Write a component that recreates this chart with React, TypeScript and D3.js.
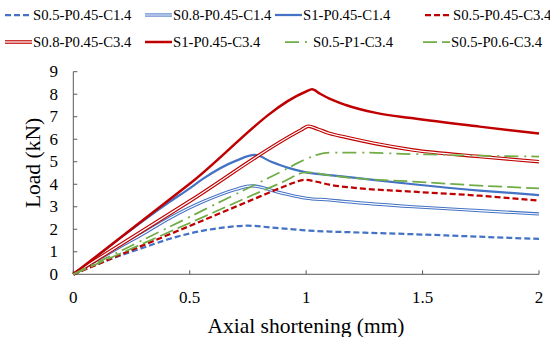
import React from "react";
import * as d3 from "d3";

const xTicks = [0, 0.5, 1, 1.5, 2];
const xTickLabels = ["0", "0.5", "1", "1.5", "2"];
const yTicks = [0, 1, 2, 3, 4, 5, 6, 7, 8, 9];

const seriesNames = [
  "S0.5-P0.45-C1.4",
  "S0.8-P0.45-C1.4",
  "S1-P0.45-C1.4",
  "S0.5-P0.45-C3.4",
  "S0.8-P0.45-C3.4",
  "S1-P0.45-C3.4",
  "S0.5-P1-C3.4",
  "S0.5-P0.6-C3.4",
];

const s05P045C14: [number, number][] = [
  [0, 0], [0.1, 0.43], [0.2, 0.83], [0.3, 1.18], [0.415, 1.58], [0.558, 1.94],
  [0.65, 2.08], [0.75, 2.16], [0.85, 2.08], [1.0, 1.95], [1.1, 1.9], [1.25, 1.85],
  [1.46, 1.78], [1.745, 1.67], [2.0, 1.57],
];
const s08P045C14: [number, number][] = [
  [0, 0], [0.1, 0.62], [0.2, 1.22], [0.3, 1.8], [0.415, 2.5], [0.558, 3.23],
  [0.7, 3.78], [0.765, 3.93], [0.887, 3.63], [1.0, 3.38], [1.1, 3.3], [1.17, 3.23],
  [1.46, 3.0], [1.745, 2.83], [2.0, 2.68],
];
const s1P045C14: [number, number][] = [
  [0, 0], [0.1, 0.8], [0.2, 1.6], [0.3, 2.38], [0.4, 3.12], [0.5, 3.82], [0.558, 4.25],
  [0.7, 5.05], [0.78, 5.3], [0.85, 5.0], [0.92, 4.74], [1.0, 4.53], [1.1, 4.41],
  [1.25, 4.24], [1.46, 4.0], [1.745, 3.72], [2.0, 3.52],
];
const s05P045C34: [number, number][] = [
  [0, 0], [0.2, 0.86], [0.4, 1.72], [0.63, 2.71], [0.8, 3.45], [0.9, 3.88],
  [0.95, 4.08], [0.99, 4.2], [1.05, 4.1], [1.1, 3.98], [1.2, 3.85], [1.46, 3.67],
  [1.745, 3.49], [2.0, 3.27],
];
const s08P045C34: [number, number][] = [
  [0, 0], [0.5, 3.25], [0.98, 6.42], [1.01, 6.58], [1.05, 6.45], [1.1, 6.26],
  [1.17, 6.09], [1.3, 5.8], [1.46, 5.52], [1.745, 5.23], [2.0, 5.0],
];
const s1P045C34: [number, number][] = [
  [0, 0], [0.5, 4.02], [1.0, 8.12], [1.025, 8.22], [1.06, 8.02], [1.1, 7.8],
  [1.17, 7.52], [1.3, 7.17], [1.46, 6.93], [1.745, 6.56], [2.0, 6.25],
];
const s05P1C34: [number, number][] = [
  [0, 0], [0.5, 2.55], [0.9, 4.6], [1.0, 5.12], [1.05, 5.32], [1.1, 5.4],
  [1.2, 5.41], [1.46, 5.34], [1.745, 5.27], [2.0, 5.23],
];
const s05P06C34: [number, number][] = [
  [0, 0], [0.5, 2.28], [0.9, 4.1], [1.0, 4.53], [1.1, 4.4], [1.17, 4.31],
  [1.46, 4.12], [1.745, 3.94], [2.0, 3.82],
];

const seriesData = [
  s05P045C14, s08P045C14, s1P045C14, s05P045C34,
  s08P045C34, s1P045C34, s05P1C34, s05P06C34,
];

const BLUE = "#4472C4";
const RED = "#C00000";
const GREEN = "#70AD47";

type Style = { color: string; width: number; dash?: string; double?: boolean };
const styles: Style[] = [
  { color: BLUE, width: 2.25, dash: "6,3" },
  { color: BLUE, width: 3.2, double: true },
  { color: BLUE, width: 2.25 },
  { color: RED, width: 2.25, dash: "6,3" },
  { color: RED, width: 3.6, double: true },
  { color: RED, width: 2.5 },
  { color: GREEN, width: 1.75, dash: "14,6,2,5" },
  { color: GREEN, width: 1.75, dash: "14,5" },
];

const W = 550;
const H = 337;
const m = { left: 73.3, right: 11, top: 71.7, bottom: 62.7 };
const FONT = "'Liberation Serif', 'Times New Roman', serif";

function Line({ d, s }: { d: string; s: Style }) {
  if (s.double) {
    return (
      <g>
        <path d={d} fill="none" stroke={s.color} strokeWidth={s.width} strokeLinejoin="round" />
        <path d={d} fill="none" stroke="#fff" strokeWidth={s.width * 0.35} strokeLinejoin="round" />
      </g>
    );
  }
  return (
    <path
      d={d}
      fill="none"
      stroke={s.color}
      strokeWidth={s.width}
      strokeDasharray={s.dash}
      strokeLinejoin="round"
    />
  );
}

export default function App() {
  const x = d3.scaleLinear().domain([0, 2]).range([m.left, W - m.right]);
  const y = d3.scaleLinear().domain([0, 9]).range([H - m.bottom, m.top]);
  const line = d3
    .line<[number, number]>()
    .x((p) => x(p[0]))
    .y((p) => y(p[1]))
    .curve(d3.curveMonotoneX);

  const legendCols = [
    [5, 145, 275, 425],
    [5, 145, 285, 423],
  ];
  const legendRows = [15, 42];
  const axisColor = "#595959";

  return (
    <svg
      width={W}
      height={H}
      style={{ position: "absolute", left: 0, top: 0, background: "#fff" }}
      fontFamily={FONT}
    >
      {/* legend */}
      {seriesNames.map((name, i) => {
        const col = i % 4;
        const row = Math.floor(i / 4);
        const lx = legendCols[row][col];
        const ly = legendRows[row];
        const s = styles[i];
        const ld = `M${lx},${ly}L${lx + 27},${ly}`;
        return (
          <g key={name}>
            <Line d={ld} s={s} />
            <text x={lx + 28} y={ly + 5} fontSize={14.7} fill="#000">
              {name}
            </text>
          </g>
        );
      })}

      {/* axes */}
      <line x1={x(0)} x2={x(2)} y1={y(0)} y2={y(0)} stroke={axisColor} strokeWidth={1} />
      <line x1={x(0)} x2={x(0)} y1={y(0)} y2={y(9)} stroke={axisColor} strokeWidth={1} />
      {yTicks.map((t) => (
        <g key={"y" + t}>
          <line x1={x(0)} x2={x(0) + 4} y1={y(t)} y2={y(t)} stroke={axisColor} />
          <text x={58} y={y(t) + 5.5} fontSize={17} textAnchor="end" fill="#000">
            {t}
          </text>
        </g>
      ))}
      {xTicks.map((t, i) => (
        <g key={"x" + t}>
          <line x1={x(t)} x2={x(t)} y1={y(0)} y2={y(0) - 4} stroke={axisColor} />
          <text x={x(t)} y={303} fontSize={17} textAnchor="middle" fill="#000">
            {xTickLabels[i]}
          </text>
        </g>
      ))}

      {/* series */}
      {seriesData.map((data, i) => (
        <Line key={seriesNames[i]} d={line(data) || ""} s={styles[i]} />
      ))}

      {/* axis titles */}
      <text x={306} y={333} fontSize={21.5} textAnchor="middle" fill="#000">
        Axial shortening (mm)
      </text>
      <text
        transform={`translate(40,163) rotate(-90)`}
        fontSize={21.5}
        textAnchor="middle"
        fill="#000"
      >
        Load (kN)
      </text>
    </svg>
  );
}
